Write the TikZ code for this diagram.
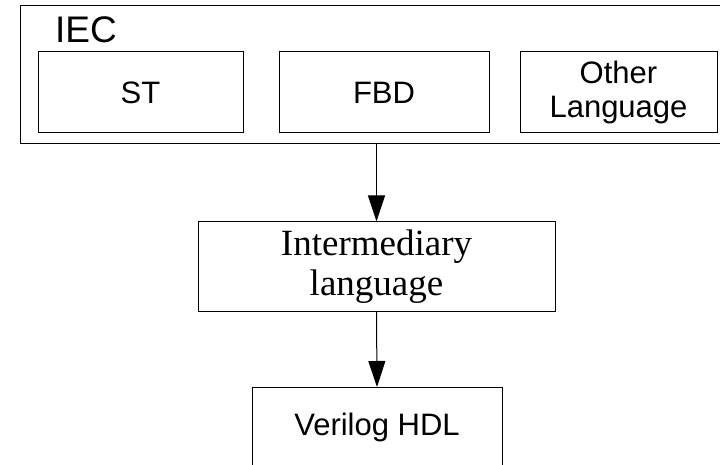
\documentclass[tikz,border=0pt]{standalone}
\usepackage{fontspec}
\setmainfont{Liberation Serif}
\setsansfont{Liberation Sans}
\usetikzlibrary{arrows.meta}

\tikzset{
  box/.style={draw, line width=1pt, inner sep=0pt, align=center},
  langbox/.style={box, minimum height=81pt, font=\sffamily\fontsize{31}{34}\selectfont},
  flow/.style={line width=1pt, -{Triangle[length=26pt,width=17pt]}}
}

\begin{document}
\begin{tikzpicture}[x=1pt,y=-1pt]
  \useasboundingbox (0,0) rectangle (720,465);

  \node[box, minimum width=701pt, minimum height=138pt] (iec) at (370.5,75) {};
  \node[anchor=base west, inner sep=0pt, font=\sffamily\fontsize{37}{40}\selectfont] (ieclabel) at (55,43) {IEC};

  \node[langbox, minimum width=205pt] (st) at (140.5,92.5) {ST};
  \node[langbox, minimum width=210pt] (fbd) at (384,92.5) {FBD};
  \node[langbox, minimum width=197pt] (other) at (618.5,92.5) {Other\\Language};

  \node[box, minimum width=357pt, minimum height=89pt, font=\rmfamily\fontsize{37}{40}\selectfont] (inter) at (376.5,266.5) {Intermediary\\language};

  \node[box, minimum width=250pt, minimum height=80pt, anchor=north, font=\sffamily\fontsize{31}{34}\selectfont] (verilog) at (377,387) {Verilog HDL};

  \draw[flow] (iec.south -| inter.north) -- (inter.north);
  \draw[flow] (inter.south) -- (verilog.north);
\end{tikzpicture}
\end{document}
